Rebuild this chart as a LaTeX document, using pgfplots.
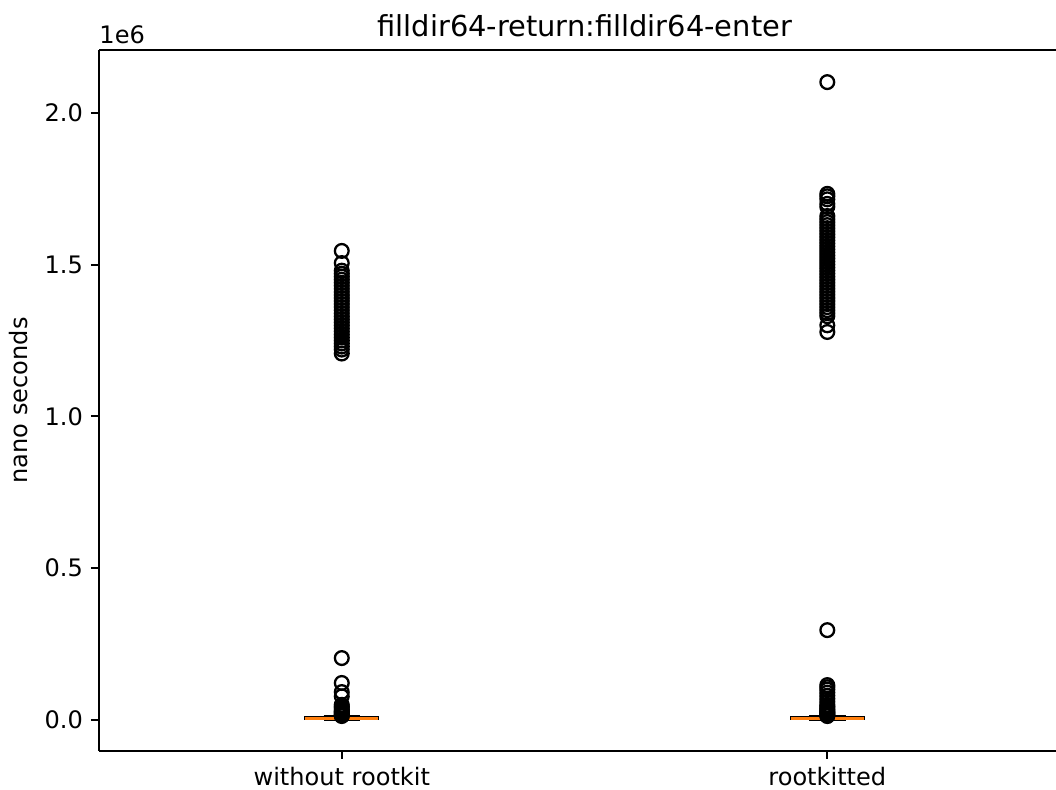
\documentclass[border=0pt]{standalone}
\usepackage{fontspec}
\setmainfont{DejaVu Sans}
\usepackage{pgfplots}
\pgfplotsset{compat=1.18}
\usepgfplotslibrary{statistics}
\definecolor{mplorange}{HTML}{FF7F0E}
\begin{document}
\begin{tikzpicture}
\useasboundingbox (-43.2pt,-16.6pt) rectangle (417.6pt,327.7pt);
\begin{axis}[
  name=ax,
  at={(0,0)}, anchor=south west,
  scale only axis, width=417.6pt, height=305.9pt,
  xmin=0.5, xmax=2.471, ymin=-0.102, ymax=2.207,
  axis lines*=left,
  boxplot/draw direction=y,
  xtick={1,2}, xticklabels={without rootkit, rootkitted},
  ytick={0,0.5,1,1.5,2},
  yticklabel style={/pgf/number format/fixed, /pgf/number format/fixed zerofill, /pgf/number format/precision=1},
  /pgf/number format/assume math mode=true,
  tick align=outside,
  major tick length=3.5pt,
  every tick/.style={black, line width=0.8pt},
  axis line style={line width=0.8pt},
  ylabel={nano seconds},
  ylabel style={yshift=0.6pt},
  title={\fontsize{12.6}{15}\selectfont filldir64-return:filldir64-enter},
  title style={yshift=-3.8pt, xshift=3.2pt},
  tick label style={font=\fontsize{10.5}{12.5}\selectfont},
  label style={font=\fontsize{10.5}{12.5}\selectfont},
  boxplot/every median/.style={draw=mplorange, line width=1pt},
  boxplot/every box/.style={draw=black, line width=1pt},
  boxplot/every whisker/.style={draw=black, line width=1pt},
]
\addplot[boxplot prepared={lower whisker=0.0, lower quartile=0.003, median=0.005, upper quartile=0.008, upper whisker=0.012, draw position=1, box extend=0.15, whisker extend=0.075},
  draw=black, mark=o, mark size=3pt, mark options={draw=black, fill=none, line width=1pt, solid}]
table[row sep=\\, y index=0] {data\\
1.545\\ 1.505\\ 1.48\\ 1.47\\ 1.46\\ 1.45\\ 1.44\\ 1.43\\ 1.42\\ 1.41\\ 1.40\\ 1.39\\ 1.38\\ 1.37\\ 1.36\\ 1.35\\ 1.34\\ 1.33\\ 1.32\\ 1.31\\ 1.30\\ 1.29\\ 1.28\\ 1.27\\ 1.26\\ 1.25\\ 1.24\\ 1.23\\ 1.22\\ 1.207\\
0.204\\ 0.122\\ 0.092\\ 0.078\\ 0.050\\ 0.045\\ 0.040\\ 0.035\\ 0.030\\ 0.027\\ 0.024\\ 0.021\\ 0.018\\ 0.015\\ 0.013\\
};
\addplot[boxplot prepared={lower whisker=0.0, lower quartile=0.003, median=0.005, upper quartile=0.008, upper whisker=0.012, draw position=2, box extend=0.15, whisker extend=0.075},
  draw=black, mark=o, mark size=3pt, mark options={draw=black, fill=none, line width=1pt, solid}]
table[row sep=\\, y index=0] {data\\
2.101\\ 1.733\\ 1.725\\ 1.715\\ 1.700\\ 1.690\\ 1.660\\ 1.650\\ 1.640\\ 1.630\\ 1.620\\ 1.610\\ 1.600\\ 1.590\\ 1.580\\ 1.570\\ 1.560\\ 1.550\\ 1.540\\ 1.530\\ 1.520\\ 1.510\\ 1.500\\ 1.490\\ 1.480\\ 1.470\\ 1.460\\ 1.450\\ 1.440\\ 1.430\\ 1.420\\ 1.410\\ 1.400\\ 1.390\\ 1.380\\ 1.370\\ 1.360\\ 1.350\\ 1.340\\ 1.330\\ 1.300\\ 1.278\\
0.296\\ 0.115\\ 0.108\\ 0.100\\ 0.090\\ 0.080\\ 0.070\\ 0.060\\ 0.050\\ 0.045\\ 0.040\\ 0.035\\ 0.030\\ 0.027\\ 0.024\\ 0.021\\ 0.018\\ 0.015\\ 0.013\\
};
\end{axis}
\draw[line width=0.8pt] (ax.north west) -- (ax.north east);
\node[anchor=south west, inner sep=0pt, yshift=2.5pt, font=\fontsize{10.5}{12.5}\selectfont] at (ax.north west) {1e6};
\end{tikzpicture}
\end{document}
